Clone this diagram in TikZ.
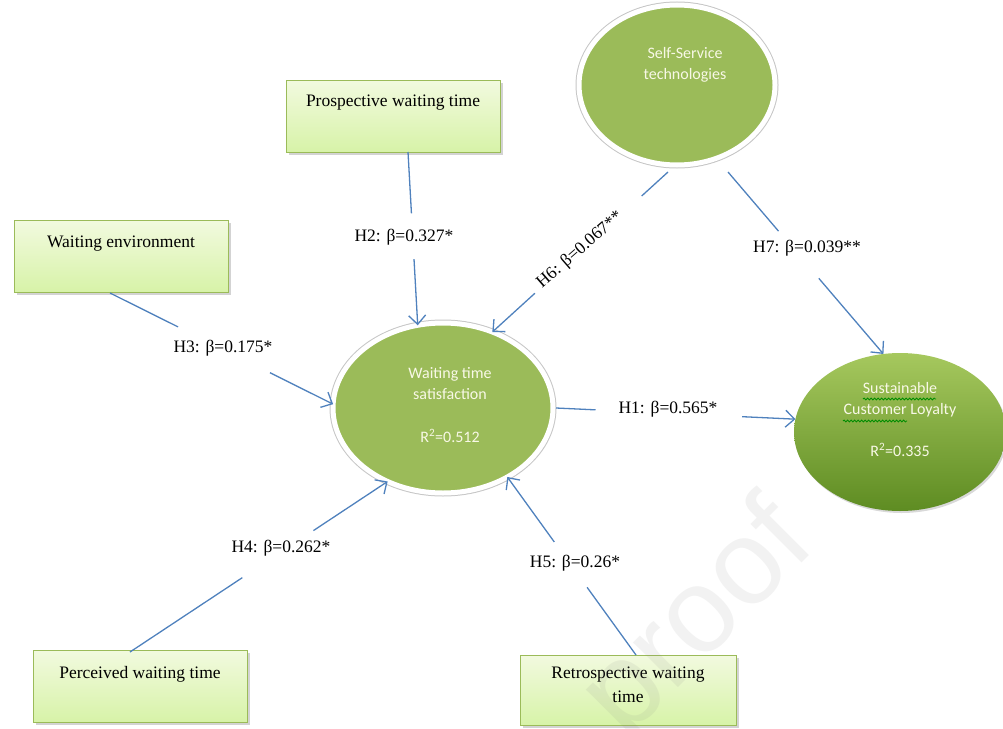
\documentclass[tikz,border=0pt]{standalone}
\usepackage{fontspec}
\setmainfont{Liberation Serif}
\newfontfamily\calib{Carlito}
\newfontfamily\wmfont{Liberation Sans}
\usetikzlibrary{shapes.geometric,arrows.meta,calc,shadows,decorations.pathmorphing}
\definecolor{olivegr}{HTML}{9BBB59}
\definecolor{loytop}{HTML}{A6C85E}
\definecolor{loybot}{HTML}{5E8C22}
\definecolor{boxtop}{HTML}{F2FADF}
\definecolor{boxbot}{HTML}{D7F3A8}
\definecolor{linkblue}{HTML}{4F81BD}
\definecolor{etextc}{HTML}{F8F8E6}
\begin{document}
\begin{tikzpicture}[x=1pt,y=-1pt,
  ringell/.style={ellipse,fill=olivegr,outer sep=0pt,inner sep=0pt,
    preaction={draw=gray!45,line width=7pt},draw=white,line width=5pt,
    drop shadow={shadow xshift=1.5pt,shadow yshift=-2pt,opacity=0.3}},
  loyell/.style={ellipse,outer sep=0pt,inner sep=0pt,top color=loytop,bottom color=loybot,
    drop shadow={shadow xshift=1.5pt,shadow yshift=-2pt,opacity=0.3}},
  varbox/.style={rectangle,draw=olivegr,line width=1pt,top color=boxtop,bottom color=boxbot,
    minimum width=214pt,minimum height=72pt,outer sep=0pt,
    drop shadow={shadow xshift=3pt,shadow yshift=-3pt,opacity=0.35}},
  btext/.style={font=\fontsize{17.5}{24}\selectfont,align=center,inner sep=0pt},
  etext/.style={font=\calib\fontsize{16}{21}\selectfont,text=etextc,align=center,inner sep=0pt},
  lbl/.style={font=\fontsize{17.5}{20}\selectfont,inner sep=0pt},
  conn/.style={draw=linkblue,line width=1.3pt},
  tip/.style={conn,-{Straight Barb[length=9pt,width=17pt,line width=1.3pt]}},
  squig/.style={draw=green!55!black,line width=0.8pt,decorate,decoration={snake,segment length=3.5pt,amplitude=1pt}}
]
\useasboundingbox (0,0) rectangle (1003,728);

% ---- ellipses ----
\node[ringell,minimum width=196pt,minimum height=160pt] (sst) at (677,85) {};
\node[etext] (sstt) at (685,65) {Self-Service\\technologies};

\node[ringell,minimum width=220pt,minimum height=170pt] (wts) at (443,408) {};
\node[etext] (wtst) at (450,384) {Waiting time\\satisfaction};
\node[etext] (wtsr) at (450,436) {R\textsuperscript{2}=0.512};

\node[loyell,minimum width=212pt,minimum height=158pt] (scl) at (900,432) {};
\node[etext] (sclt) at (900,400) {Sustainable\\Customer Loyalty};
\node[etext] (sclr) at (900,450) {R\textsuperscript{2}=0.335};
\draw[squig] (863,399) -- (936,399);
\draw[squig] (843,421) -- (907,421);

% ---- boxes ----
\node[varbox] (pw) at (393,116) {};
\node[btext] (pwt) at (393,103) {Prospective waiting time};
\node[varbox] (we) at (121,256) {};
\node[btext] (wet) at (121,244) {Waiting environment};
\node[varbox] (pcw) at (140,686) {};
\node[btext] (pcwt) at (140,674) {Perceived waiting time};
\node[varbox,minimum width=216pt,minimum height=70pt] (rw) at (628,690) {};
\node[btext] (rwt) at (628,685) {Retrospective waiting\\time};

% ---- connector end points ----
\coordinate (h2s) at ([xshift=15pt]pw.south);
\coordinate (h2e) at (wts.107);
\coordinate (h3s) at ([xshift=-11pt,yshift=-1pt]we.south);
\coordinate (h3e) at (wts.178);
\coordinate (h4s) at ([xshift=-10pt,yshift=-2pt]pcw.north);
\coordinate (h4e) at (wts.233);
\coordinate (h5s) at ([xshift=8pt]rw.north);
\coordinate (h5e) at (wts.313);
\coordinate (h6s) at ([xshift=-9pt,yshift=-7pt]sst.south);
\coordinate (h6e) at (wts.57);
\coordinate (h7s) at ([xshift=51pt,yshift=-7pt]sst.south);
\coordinate (h7e) at (scl.102);
\coordinate (h1s) at ([xshift=3pt]wts.east);
\coordinate (h1e) at (scl.173);

% ---- connectors (broken around their labels) ----
\draw[conn] (h2s) -- ($(h2s)!0.354!(h2e)$);
\draw[tip] ($(h2s)!0.618!(h2e)$) -- (h2e);
\draw[conn] (h3s) -- ($(h3s)!0.305!(h3e)$);
\draw[tip] ($(h3s)!0.717!(h3e)$) -- (h3e);
\draw[conn] (h4s) -- ($(h4s)!0.436!(h4e)$);
\draw[tip] ($(h4s)!0.712!(h4e)$) -- (h4e);
\draw[conn] (h5s) -- ($(h5s)!0.38!(h5e)$);
\draw[tip] ($(h5s)!0.635!(h5e)$) -- (h5e);
\draw[conn] (h6s) -- ($(h6s)!0.15!(h6e)$);
\draw[tip] ($(h6s)!0.758!(h6e)$) -- (h6e);
\draw[conn] (h7s) -- ($(h7s)!0.325!(h7e)$);
\draw[tip] ($(h7s)!0.584!(h7e)$) -- (h7e);
\draw[conn] (h1s) -- ($(h1s)!0.165!(h1e)$);
\draw[tip] ($(h1s)!0.777!(h1e)$) -- (h1e);

% ---- labels ----
\node[lbl] (l1) at (668,409) {H1: β=0.565*};
\node[lbl] (l2) at (404,237) {H2: β=0.327*};
\node[lbl] (l3) at (223,348) {H3: β=0.175*};
\node[lbl] (l4) at (281,548) {H4: β=0.262*};
\node[lbl] (l5) at (575,563) {H5: β=0.26*};
\node[lbl,rotate=41] (l6) at (580,250) {H6: β=0.067**};
\node[lbl] (l7) at (807,248) {H7: β=0.039**};

% ---- watermark ----
\node[font=\wmfont\fontsize{120}{120}\selectfont,text=gray,opacity=0.1,rotate=45,inner sep=0pt] (wm) at (700,622) {proof};
\end{tikzpicture}
\end{document}
